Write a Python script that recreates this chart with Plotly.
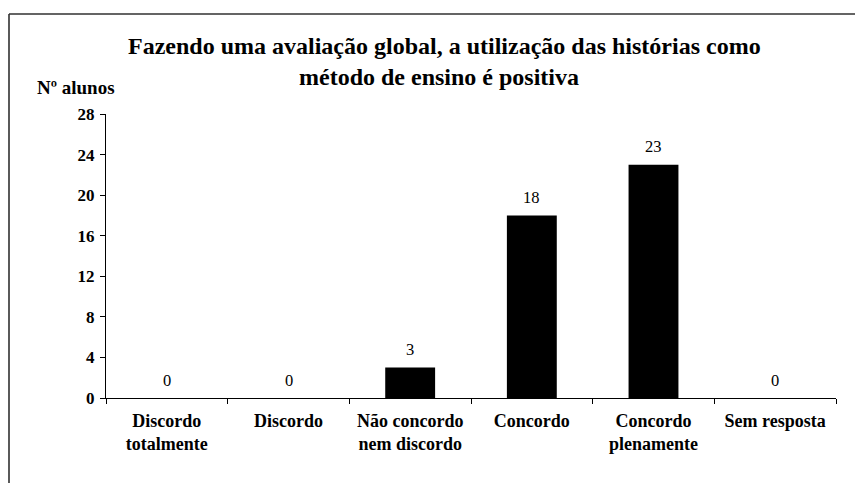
import plotly.graph_objects as go

categories = ["Discordo<br>totalmente", "Discordo", "Não concordo<br>nem discordo",
              "Concordo", "Concordo<br>plenamente", "Sem resposta"]
values = [0, 0, 3, 18, 23, 0]
y_ticks = [0, 4, 8, 12, 16, 20, 24, 28]
title_lines = ["Fazendo uma avaliação global, a utilização das histórias como",
               "método de ensino é positiva"]
y_title = "Nº alunos"

OFF = 8  # page body margin
W, H = 863 - OFF, 483 - OFF
L, R, T, B = 106 - OFF, 836 - OFF, 114 - OFF, 398 - OFF  # plot area in figure pixels

def px(x):
    return (x - OFF - L) / (R - L)

def py(y):
    return (B - (y - OFF)) / (B - T)

FONT = "Liberation Serif"

fig = go.Figure(go.Bar(
    x=categories, y=values, width=0.41,
    marker=dict(color="black", line=dict(width=0)),
    hoverinfo="skip",
))

annotations = []
for c, v in zip(categories, values):
    annotations.append(dict(x=c, y=v, xref="x", yref="y", text=str(v), showarrow=False,
                            yanchor="middle", yshift=18,
                            font=dict(family=FONT, size=16.5, color="black")))
annotations.append(dict(x=px(444), y=py(46), xref="paper", yref="paper", text=title_lines[0],
                        showarrow=False, xanchor="center", yanchor="middle",
                        font=dict(family=FONT, size=24, color="black", weight="bold")))
annotations.append(dict(x=px(439), y=py(77), xref="paper", yref="paper", text=title_lines[1],
                        showarrow=False, xanchor="center", yanchor="middle",
                        font=dict(family=FONT, size=24, color="black", weight="bold")))
annotations.append(dict(x=px(76), y=py(87), xref="paper", yref="paper", text=y_title,
                        showarrow=False, xanchor="center", yanchor="middle",
                        font=dict(family=FONT, size=19, color="black", weight="bold")))

shapes = [
    dict(type="line", xref="paper", yref="paper", x0=px(9), y0=py(14), x1=px(875), y1=py(14),
         line=dict(color="#303030", width=1.6)),
    dict(type="line", xref="paper", yref="paper", x0=px(9), y0=py(14), x1=px(9), y1=py(495),
         line=dict(color="#303030", width=1.6)),
]

fig.update_layout(
    width=W, height=H,
    margin=dict(l=L, r=W - R, t=T, b=H - B, pad=0),
    paper_bgcolor="white", plot_bgcolor="white",
    showlegend=False,
    annotations=annotations, shapes=shapes,
    font=dict(family=FONT),
)
fig.update_xaxes(
    type="category", range=[-0.5, 5.5],
    showline=True, linecolor="black", linewidth=1,
    ticks="outside", tickson="boundaries", ticklen=5, tickcolor="black",
    showgrid=False, zeroline=False,
    ticklabelstandoff=6,
    tickfont=dict(family=FONT, size=18, color="black", weight="bold"),
)
fig.update_yaxes(
    range=[0, 28], tickvals=y_ticks,
    showline=True, linecolor="black", linewidth=1,
    ticks="outside", ticklen=5, tickcolor="black",
    showgrid=False, zeroline=False,
    ticklabelstandoff=2,
    tickfont=dict(family=FONT, size=17, color="black", weight="bold"),
)

fig.write_html("out.html")
